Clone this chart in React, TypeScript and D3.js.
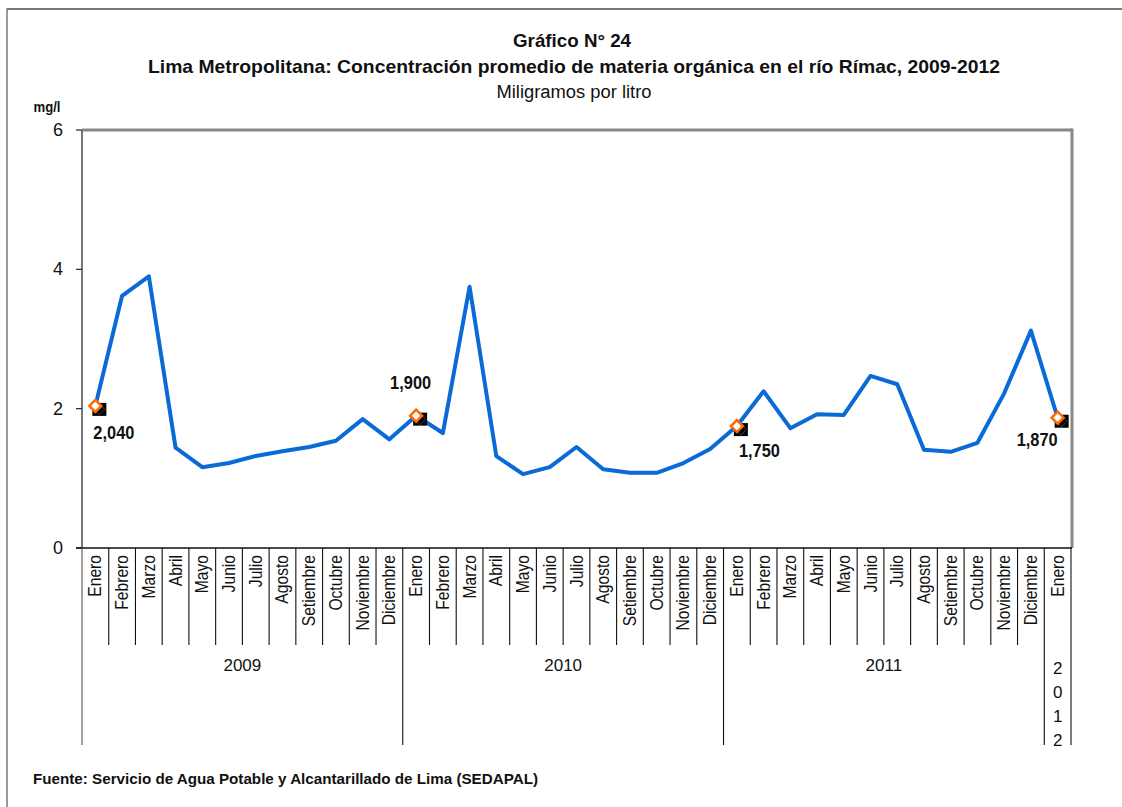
import React from "react";
import * as d3 from "d3";

const months = ["Enero","Febrero","Marzo","Abril","Mayo","Junio","Julio","Agosto","Setiembre","Octubre","Noviembre","Diciembre"];
const years = ["2009","2010","2011","2012"];
const values2009 = [2.04,3.62,3.90,1.44,1.16,1.22,1.32,1.39,1.45,1.54,1.85,1.56];
const values2010 = [1.90,1.65,3.75,1.32,1.06,1.16,1.45,1.13,1.08,1.08,1.22,1.42];
const values2011 = [1.75,2.25,1.72,1.92,1.91,2.47,2.35,1.41,1.38,1.51,2.22,3.12];
const values2012 = [1.87];
const yTicks = [0,2,4,6];
const labeled = [
  { idx: 0, text: "2,040", dx: -2, dy: 33 },
  { idx: 12, text: "1,900", dx: -26, dy: -27 },
  { idx: 24, text: "1,750", dx: 2, dy: 31 },
  { idx: 36, text: "1,870", dx: -41, dy: 28 },
];

const FONT = "'Liberation Sans', Arial, sans-serif";

export default function App() {
  const cats: string[] = [];
  const vals: number[] = [];
  const yearOf: string[] = [];
  [values2009, values2010, values2011, values2012].forEach((arr, yi) => {
    arr.forEach((v, mi) => {
      cats.push(years[yi] + "-" + mi);
      vals.push(v);
      yearOf.push(years[yi]);
    });
  });
  const left = 82, right = 1071, top = 130, bottom = 548;
  const x = d3.scaleBand<string>().domain(cats).range([left, right]).padding(0);
  const y = d3.scaleLinear().domain([0, 6]).range([bottom, top]);
  const bw = x.bandwidth();
  const cx = (i: number) => (x(cats[i]) as number) + bw / 2;
  const line = d3.line<number>().x((_, i) => cx(i)).y((d) => y(d));

  const groups: { year: string; start: number; end: number }[] = [];
  yearOf.forEach((yr, i) => {
    const g = groups[groups.length - 1];
    if (g && g.year === yr) g.end = i;
    else groups.push({ year: yr, start: i, end: i });
  });
  const boundaries = cats.map((c) => x(c) as number).concat([right]);

  return (
    <svg width={1122} height={807} style={{ position: "absolute", left: 0, top: 0, background: "#fff" }} fontFamily={FONT}>
      <rect x={7} y={9} width={1300} height={1000} fill="none" stroke="#555" strokeWidth={1.2} />
      <line x1={7} x2={1122} y1={9} y2={9} stroke="#777" strokeWidth={2} />
      <text x={572} y={47} textAnchor="middle" fontWeight="bold" fontSize={19} fill="#111" textLength={118} lengthAdjust="spacingAndGlyphs">Gráfico N° 24</text>
      <text x={574} y={73} textAnchor="middle" fontWeight="bold" fontSize={19} fill="#111" textLength={852} lengthAdjust="spacingAndGlyphs">Lima Metropolitana: Concentración promedio de materia orgánica en el río Rímac, 2009-2012</text>
      <text x={574} y={98} textAnchor="middle" fontSize={18} fill="#111" textLength={155} lengthAdjust="spacingAndGlyphs">Miligramos por litro</text>
      <text x={47} y={112} textAnchor="middle" fontWeight="bold" fontSize={15} fill="#111" textLength={27} lengthAdjust="spacingAndGlyphs">mg/l</text>

      <line x1={left} x2={right + 1} y1={top} y2={top} stroke="#888" strokeWidth={3} />
      <line x1={right + 1} x2={right + 1} y1={top - 1.5} y2={bottom} stroke="#888" strokeWidth={3} />
      <line x1={left} x2={left} y1={top} y2={bottom} stroke="#777" strokeWidth={2} />
      {yTicks.map((t) => (
        <g key={t}>
          <line x1={76} x2={left} y1={y(t)} y2={y(t)} stroke="#222" strokeWidth={1.2} />
          <text x={63} y={y(t) + 6} textAnchor="end" fontSize={18} fill="#111">{t}</text>
        </g>
      ))}
      <line x1={76} x2={right + 1} y1={bottom} y2={bottom} stroke="#111" strokeWidth={1.5} />

      {boundaries.map((bx, i) => {
        const isYear = i === 0 || i === boundaries.length - 1 || groups.some((g) => g.start === i);
        return (
          <line key={i} x1={bx} x2={bx} y1={bottom} y2={isYear ? 745 : 645} stroke={i === 0 ? "#555" : "#111"} strokeWidth={1.1} />
        );
      })}
      {cats.map((c, i) => (
        <text key={c} transform={`translate(${cx(i) + 6},555) rotate(-90) scale(0.92,1.08)`} textAnchor="end" fontSize={17} fill="#111">
          {months[i % 12]}
        </text>
      ))}
      {groups.map((g) => {
        const gx = ((x(cats[g.start]) as number) + (x(cats[g.end]) as number) + bw) / 2;
        if (g.end - g.start >= 3) {
          return (
            <text key={g.year} x={gx} y={671} textAnchor="middle" fontSize={17} fill="#111">{g.year}</text>
          );
        }
        return (
          <g key={g.year}>
            {g.year.split("").map((ch, k) => (
              <text key={k} x={gx} y={674 + k * 24} textAnchor="middle" fontSize={17} fill="#111">{ch}</text>
            ))}
          </g>
        );
      })}

      <path d={line(vals) as string} fill="none" stroke="#0a6ad6" strokeWidth={4} strokeLinejoin="round" />

      {labeled.map((l) => {
        const px = cx(l.idx), py = y(vals[l.idx]);
        return (
          <g key={l.idx}>
            <rect x={px - 3} y={py - 3} width={14} height={13} fill="#000" />
            <path d={`M${px + 4},${py - 2} l5.5,5.5 l-5.5,5.5 l-5.5,-5.5 Z`} fill="none" stroke="#444" strokeWidth={1} />
            <path d={`M${px},${py - 6} l6,6 l-6,6 l-6,-6 Z`} fill="#fff" stroke="#ff6a00" strokeWidth={2.5} />
            <text x={px + l.dx} y={py + l.dy} fontWeight="bold" fontSize={18} fill="#111" textLength={41} lengthAdjust="spacingAndGlyphs">{l.text}</text>
          </g>
        );
      })}

      <text x={33} y={784} fontWeight="bold" fontSize={15} fill="#111" textLength={505} lengthAdjust="spacingAndGlyphs">Fuente: Servicio de Agua Potable y Alcantarillado de Lima (SEDAPAL)</text>
    </svg>
  );
}
